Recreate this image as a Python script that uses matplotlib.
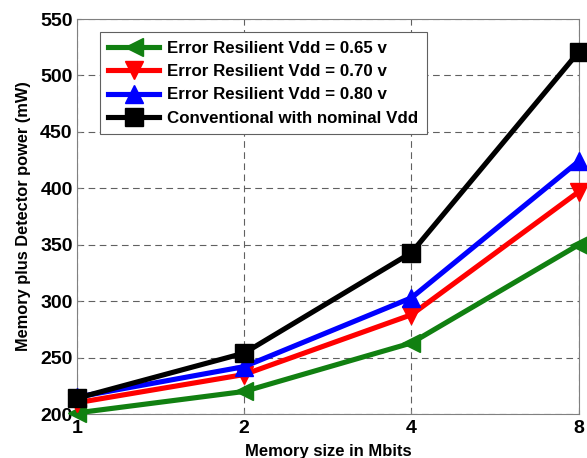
import matplotlib
matplotlib.use("Agg")
import matplotlib.pyplot as plt

mem_sizes = [1, 2, 4, 8]
tick_labels = ["1", "2", "4", "8"]
p065 = [201, 220, 263, 350]
p070 = [210, 235, 288, 397]
p080 = [215, 242, 303, 424]
conv = [214, 254, 343, 521]

series = [
    ("Error Resilient Vdd = 0.65 v", p065, "#118011", "<"),
    ("Error Resilient Vdd = 0.70 v", p070, "#ff0000", "v"),
    ("Error Resilient Vdd = 0.80 v", p080, "#0000ff", "^"),
    ("Conventional with nominal Vdd", conv, "#000000", "s"),
]

plt.rcParams['font.family'] = ['Liberation Sans', 'DejaVu Sans']
fig = plt.figure(figsize=(5.87, 4.58), dpi=100)
ax = fig.add_axes([0.131, 0.096, 0.855, 0.8625])

for label, vals, col, mk in series:
    ax.plot(mem_sizes, vals, color=col, lw=3.7, marker=mk, ms=13,
            label=label, clip_on=False, zorder=3)

ax.set_xscale('log', base=2)
ax.set_xlim(1, 8)
ax.set_ylim(200, 550)
ax.set_xticks(mem_sizes)
ax.set_xticklabels(tick_labels)
ax.minorticks_off()
ax.set_yticks(range(200, 551, 50))
ax.tick_params(labelsize=14, length=3, color='#808080', direction='in')
ax.tick_params(axis='x', pad=4)
ax.tick_params(axis='y', pad=3)
for t in ax.get_xticklabels() + ax.get_yticklabels():
    t.set_fontweight('bold')
ax.grid(True, linestyle=(0, (6, 4)), color='#606060', lw=0.8)
for s in ax.spines.values():
    s.set_color('#808080')
ax.set_xlabel("Memory size in Mbits", fontsize=12, fontweight='bold', labelpad=5)
ax.set_ylabel("Memory plus Detector power (mW)", fontsize=11.8, fontweight='bold', labelpad=7)

leg = ax.legend(loc='upper left', bbox_to_anchor=(0.046, 0.967),
                prop={'weight': 'bold', 'size': 12.2}, frameon=True, fancybox=False,
                edgecolor='#606060', framealpha=1, handlelength=3.0,
                borderpad=0.5, labelspacing=0.5, handletextpad=0.45, borderaxespad=0,
                markerscale=1.0)
leg.get_frame().set_linewidth(0.8)

fig.savefig("out.png", dpi=100)
